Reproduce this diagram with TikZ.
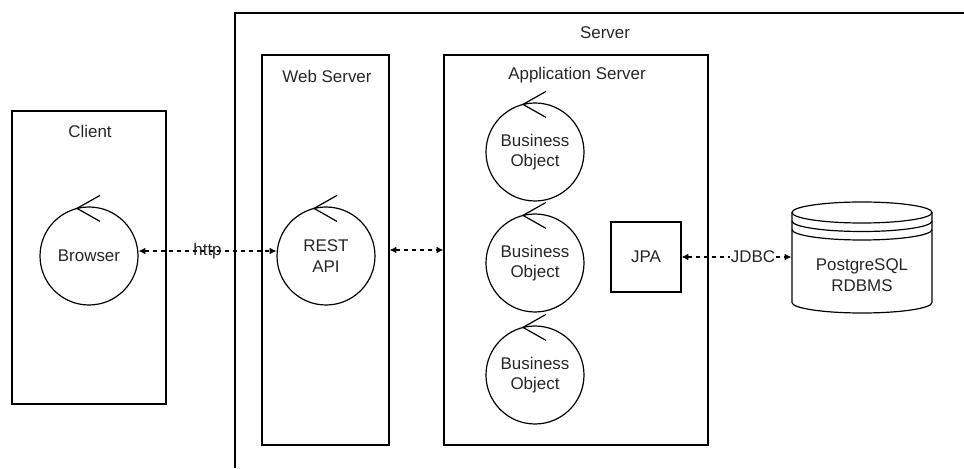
\documentclass[tikz,border=0pt]{standalone}
\usepackage{fontspec}
\setmainfont{Liberation Sans}
\usetikzlibrary{arrows.meta}

\begin{document}
\begin{tikzpicture}[x=0.75pt,y=0.75pt,
  line width=0.9pt,
  every node/.style={font=\fontsize{12.7}{15.5}\selectfont,text=black!85},
  box/.style={draw,rectangle,inner sep=0pt},
  ctrl/.style={draw,circle,minimum size=73.5pt,inner sep=0pt,align=center},
  link/.style={dash pattern=on 3pt off 3pt,{Latex[length=5pt,width=5pt]}-{Latex[length=5pt,width=5pt]}}]
\useasboundingbox (0,0) rectangle (964,468);
\draw (964,455) -- (235,455) -- (235,0);
\node (server) at (605,435) {Server};
\node[box,minimum width=115.5pt,minimum height=219.75pt] (client) at (89,210.5) {};
\node (clientlbl) at (90,337) {Client};
\node[box,minimum width=95.25pt,minimum height=292.5pt] (web) at (325.5,218) {};
\node (weblbl) at (327,392) {Web Server};
\node[box,minimum width=198pt,minimum height=292.5pt] (app) at (576,218) {};
\node (applbl) at (577,393) {Application Server};
\node[ctrl] (browser) at (89,212) {Browser};
\node[ctrl] (rest) at (326,212) {REST\\API};
\node[ctrl] (bo1) at (535,316) {Business\\Object};
\node[ctrl] (bo2) at (535,205) {Business\\Object};
\node[ctrl] (bo3) at (535,93) {Business\\Object};
\node[box,minimum size=52.5pt] (jpa) at (646,211) {JPA};
\foreach \n in {browser,rest,bo1,bo2,bo3}
  \draw (\n.north) ++(11,11) -- ++(-23,-13) -- ++(23,-13);
\draw (792,255.5) -- (792,165.5) arc[start angle=180,end angle=360,x radius=52.5pt,y radius=7.875pt] -- (932,255.5);
\draw (862,255.5) ellipse [x radius=52.5pt,y radius=7.875pt];
\draw (792,247) arc[start angle=180,end angle=360,x radius=52.5pt,y radius=7.875pt];
\draw (792,238.5) arc[start angle=180,end angle=360,x radius=52.5pt,y radius=7.875pt];
\node[minimum width=105pt,align=center] (db) at (862,192.5) {PostgreSQL\\RDBMS};
\draw[link] ([yshift=3.75pt]browser.east) -- node (http) {http} ([yshift=3.75pt]rest.west);
\draw[link] (web.east) -- (app.west);
\draw[link] (jpa.east) -- node[pos=0.65,fill=white,inner sep=1pt] (jdbc) {JDBC} (jpa.east -| db.west);
\end{tikzpicture}
\end{document}
